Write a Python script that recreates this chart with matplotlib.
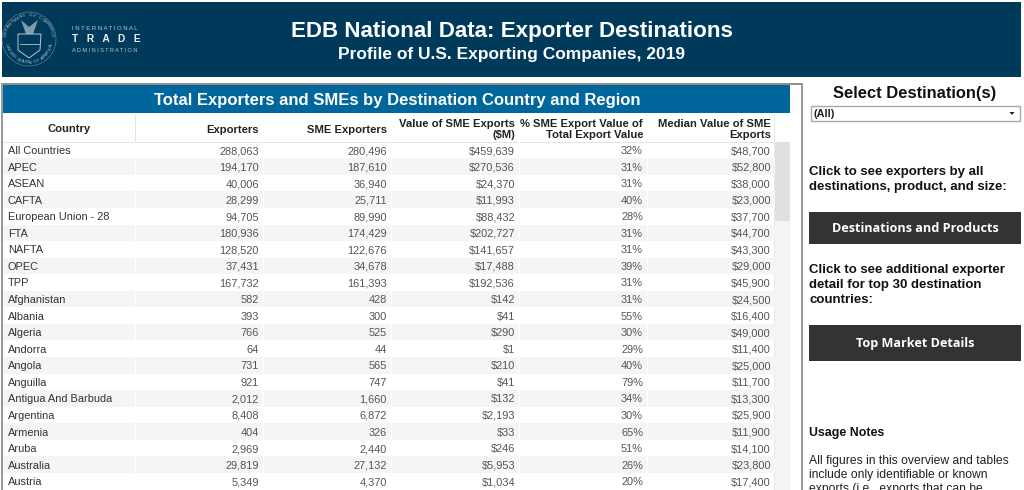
import matplotlib
matplotlib.use('Agg')
import matplotlib.pyplot as plt
import numpy as np
from matplotlib.patches import Rectangle, Circle, Polygon

plt.rcParams['font.family'] = ['Liberation Sans', 'DejaVu Sans']

countries = ['All Countries', 'APEC', 'ASEAN', 'CAFTA', 'European Union - 28', 'FTA', 'NAFTA', 'OPEC', 'TPP',
             'Afghanistan', 'Albania', 'Algeria', 'Andorra', 'Angola', 'Anguilla', 'Antigua And Barbuda',
             'Argentina', 'Armenia', 'Aruba', 'Australia', 'Austria']
exporters = ['288,063', '194,170', '40,006', '28,299', '94,705', '180,936', '128,520', '37,431', '167,732',
             '582', '393', '766', '64', '731', '921', '2,012', '8,408', '404', '2,969', '29,819', '5,349']
sme_exporters = ['280,496', '187,610', '36,940', '25,711', '89,990', '174,429', '122,676', '34,678', '161,393',
                 '428', '300', '525', '44', '565', '747', '1,660', '6,872', '326', '2,440', '27,132', '4,370']
sme_value = ['$459,639', '$270,536', '$24,370', '$11,993', '$88,432', '$202,727', '$141,657', '$17,488', '$192,536',
             '$142', '$41', '$290', '$1', '$210', '$41', '$132', '$2,193', '$33', '$246', '$5,953', '$1,034']
sme_pct = ['32%', '31%', '31%', '40%', '28%', '31%', '31%', '39%', '31%',
           '31%', '55%', '30%', '29%', '40%', '79%', '34%', '30%', '65%', '51%', '26%', '20%']
median_value = ['$48,700', '$52,800', '$38,000', '$23,000', '$37,700', '$44,700', '$43,300', '$29,000', '$45,900',
                '$24,500', '$16,400', '$49,000', '$11,400', '$25,000', '$11,700', '$13,300', '$25,900', '$11,900',
                '$14,100', '$23,800', '$17,400']
col_headers = ['Exporters', 'SME Exporters', 'Value of SME Exports\n($M)',
               '% SME Export Value of\nTotal Export Value', 'Median Value of SME\nExports']
col_right = [259, 387, 515, 643, 771]

navy = '#003a5b'
blue = '#00669b'
dark = '#333333'
grey_text = '#555555'
seal = '#b9c6cf'

fig = plt.figure(figsize=(10.24, 4.90), dpi=100, facecolor='white')
ax = fig.add_axes([0, 0, 1, 1])
ax.set_xlim(0, 1024)
ax.set_ylim(490, 0)
ax.axis('off')


def box(x, y, w, h, color, z=1):
    ax.add_patch(Rectangle((x, y), w, h, facecolor=color, edgecolor='none', zorder=z))


def ring_text(s, start, end, radius=23.5):
    # seal lettering, one character at a time along the circle
    for ch, ang in zip(s, np.linspace(start, end, len(s))):
        a = np.deg2rad(ang)
        x = 29 + radius * np.cos(a)
        y = 39 - radius * np.sin(a)
        rot = ang - 90 if np.sin(a) >= -0.2 else ang + 90
        ax.text(x, y, ch, color=seal, fontsize=3.2, rotation=rot, ha='center', va='center', zorder=3)


# top banner
box(2, 2, 1019, 75, navy)
ax.text(511.5, 31, 'EDB National Data: Exporter Destinations', color='white', fontsize=16.1,
        fontweight='bold', ha='center', va='center')
ax.text(511, 54, 'Profile of U.S. Exporting Companies, 2019', color='white', fontsize=12.55,
        fontweight='bold', ha='center', va='center')

# logo, roughly
ax.add_patch(Circle((29, 39), 27, facecolor='none', edgecolor=seal, lw=0.4, alpha=0.6, zorder=2))
ax.add_patch(Polygon([(18, 34), (41, 34), (40, 50), (29, 58), (18, 50)], closed=True,
                     facecolor='none', edgecolor=seal, lw=0.7, zorder=2))
ax.add_patch(Polygon([(21, 20), (29, 27), (38, 20), (33, 34), (26, 34)], closed=True,
                     facecolor=seal, edgecolor='none', alpha=0.7, zorder=2))
ax.plot([20, 39], [44, 44], color=seal, lw=0.6, zorder=2)
ring_text('DEPARTMENT OF COMMERCE', 172, 8)
ring_text('UNITED STATES OF AMERICA', 196, 344)
ax.text(71.5, 28, 'I N T E R N A T I O N A L', color=seal, fontsize=4.3, va='center')
ax.text(71.5, 39.5, 'T   R   A   D   E', color='#e8edf0', fontsize=7.4, fontweight='bold', va='center')
ax.text(71.5, 50, 'A D M I N I S T R A T I O N', color=seal, fontsize=4.0, va='center')

# table frame and title bar
box(2, 83, 800, 2, '#8f8f8f')
box(801, 83, 2, 407, '#9a9a9a')
box(1, 83, 2, 407, '#9a9a9a')
box(3, 85, 787, 28, blue)
ax.text(397, 100.5, 'Total Exporters and SMEs by Destination Country and Region', color='white',
        fontsize=12, fontweight='bold', ha='center', va='center')

# scrollbar
box(775, 142, 15, 348, '#f4f4f4')
box(775, 142, 15, 79, '#e0e0e0')

# header row
box(135, 114, 1, 28, '#e4e4e4')
box(3, 142, 772, 1, '#e4e4e4')
box(774, 114, 1, 376, '#e8e8e8')
ax.text(69.5, 128.5, 'Country', color='#222222', fontsize=8.15, fontweight='bold', ha='center', va='center')
for head, right in zip(col_headers, col_right):
    ax.text(right, 129.5, head, color='#222222', fontsize=8.15, fontweight='bold',
            ha='right', va='center', linespacing=1.2)

# rows
columns = [exporters, sme_exporters, sme_value, sme_pct, median_value]
for i, name in enumerate(countries):
    yc = 150 + 16.56 * i
    if i % 2 == 1:
        box(3, yc - 8.3, 772, 16.56, '#f5f5f5')
    ax.text(8, yc + 1, name, color='#333333', fontsize=7.9, va='center', zorder=3)
    for vals, right in zip(columns, col_right):
        ax.text(right, yc + 1, vals[i], color=grey_text, fontsize=7.9, ha='right', va='center', zorder=3)
for sep in [135, 263, 391, 519, 647]:
    box(sep, 142, 1, 348, 'white', z=2)

# right panel
ax.text(915, 93.5, 'Select Destination(s)', color='#111111', fontsize=11.9, fontweight='bold',
        ha='center', va='center')
ax.add_patch(Rectangle((810.5, 105.5), 209, 15, facecolor='white', edgecolor='#a8a8a8', lw=1, zorder=2))
ax.text(814, 114, '(All)', color='#222222', fontsize=7.8, fontweight='bold', va='center', zorder=3)
ax.add_patch(Polygon([(1009.5, 112), (1014.5, 112), (1012, 115)], closed=True, facecolor='#222222', zorder=3))

side_bold = 9.5
ax.text(809, 172, 'Click to see exporters by all', color='#111111', fontsize=side_bold, fontweight='bold', va='center')
ax.text(809, 187, 'destinations, product, and size:', color='#111111', fontsize=side_bold, fontweight='bold', va='center')
box(809, 212, 212, 32, dark)
ax.text(915, 228.5, 'Destinations and Products', color='white', fontsize=9.05, fontweight='bold',
        family=['Open Sans', 'DejaVu Sans'], ha='center', va='center', zorder=3)
ax.text(809, 270, 'Click to see additional exporter', color='#111111', fontsize=side_bold, fontweight='bold', va='center')
ax.text(809, 285, 'detail for top 30 destination', color='#111111', fontsize=side_bold, fontweight='bold', va='center')
ax.text(809, 300, 'countries:', color='#111111', fontsize=side_bold, fontweight='bold', va='center')
box(809, 325, 212, 36, dark)
ax.text(915, 343.5, 'Top Market Details', color='white', fontsize=9.05, fontweight='bold',
        family=['Open Sans', 'DejaVu Sans'], ha='center', va='center', zorder=3)
ax.text(809, 432.5, 'Usage Notes', color='#111111', fontsize=8.9, fontweight='bold', va='center')
ax.text(809, 460.5, 'All figures in this overview and tables', color='#222222', fontsize=8.75, va='center')
ax.text(809, 474.5, 'include only identifiable or known', color='#222222', fontsize=8.75, va='center')
ax.text(809, 488.5, 'exports (i.e., exports that can be', color='#222222', fontsize=8.75, va='center')

fig.savefig('out.png', dpi=100)
